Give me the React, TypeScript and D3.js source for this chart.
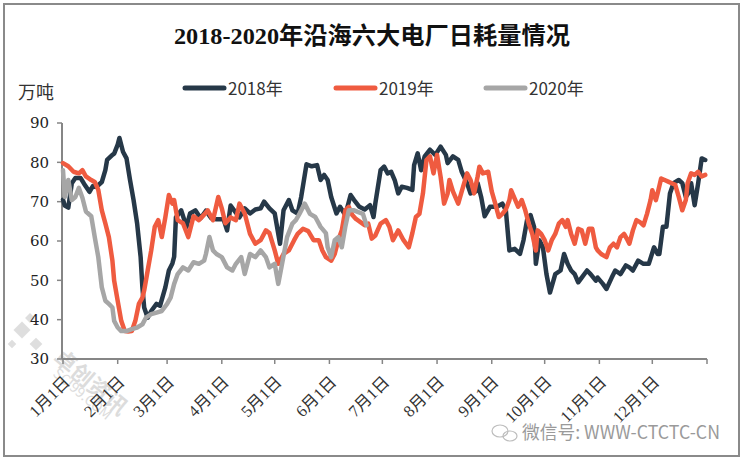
import React, {JSX} from "react";
import * as d3 from "d3";

const title = "2018-2020年沿海六大电厂日耗量情况";
const unitLabel = "万吨";
const seriesNames = ["2018年", "2019年", "2020年"];
const seriesColors = ["#263848", "#EF5B40", "#A6A6A6"];
const yTicks = [30, 40, 50, 60, 70, 80, 90];
const watermark = "微信号: WWW-CTCTC-CN";

// [day of year, 万吨]
const data2018: [number, number][] = [
    [0, 70.5], [1, 69], [3, 68.5], [5, 74.7], [7, 76], [10, 76], [12, 74.5], [15, 72.5], [17, 74], [19, 73.8],
    [22, 75], [24, 78], [25, 80.6], [28, 81.9], [29, 82.2], [31, 84.5], [32, 86.2], [34, 82.7], [36, 81],
    [38, 75.5], [40, 70.4], [42, 64.5], [44, 55.9], [45, 48.2], [46, 43.1], [48, 40.5], [50, 42.2], [53, 44],
    [55, 43.5], [58, 48.2], [60, 52.5], [62, 54.3], [63, 56], [64, 66], [67, 67.8], [70, 63.6], [72, 67],
    [75, 67.8], [78, 65.8], [81, 67.7], [84, 65.8], [87, 65.5], [91, 65.5], [93, 62.7], [95, 69], [97, 67.8],
    [100, 66], [103, 68.3], [106, 67], [109, 68], [112, 68.3], [114, 70], [117, 68.3], [120, 67], [123, 59.3],
    [125, 67.8], [128, 70.4], [130, 67.8], [133, 67], [135, 71.2], [138, 79.5], [141, 79], [144, 79.3],
    [146, 75.5], [148, 76.8], [150, 75.5], [152, 71.2], [155, 67], [157, 68.7], [160, 66.6], [163, 71.7],
    [165, 70.4], [168, 68.7], [171, 68], [174, 69.1], [176, 66.1], [177, 69.5], [180, 78], [182, 78.9],
    [184, 77.2], [186, 77.6], [188, 75.5], [190, 72.1], [192, 73.8], [195, 73.5], [198, 73], [199, 79.3],
    [201, 82.3], [203, 78], [205, 81.5], [208, 83.2], [211, 81.9], [214, 84], [217, 81.9], [218, 79.8],
    [221, 81.5], [224, 80.6], [226, 77.6], [229, 74.7], [231, 72.1], [234, 72.6], [235, 74.7], [237, 71.2],
    [239, 66.3], [242, 68.7], [246, 68.7], [249, 69.5], [251, 67.8], [253, 57.6], [256, 58], [259, 56.7],
    [261, 60.2], [263, 65.3], [265, 66.6], [267, 63.6], [268, 54.2], [270, 60.2], [272, 58.4], [274, 51.6],
    [276, 46.9], [279, 51.6], [282, 52.5], [284, 56.7], [286, 54.2], [288, 52.5], [290, 51.6], [292, 49.5],
    [294, 50.7], [297, 52.5], [299, 51.6], [302, 49.9], [303, 50.7], [306, 49.1], [308, 47.8], [311, 50.7],
    [313, 52.5], [316, 51.6], [319, 53.8], [321, 53.3], [323, 52.5], [326, 55], [329, 54.2], [332, 54.2],
    [335, 58.4], [337, 56.7], [338, 56.7], [340, 63.6], [342, 63.6], [344, 72.1], [346, 74.7], [349, 75.5],
    [351, 74.7], [353, 71.2], [355, 72.6], [356, 74.7], [358, 69.1], [360, 74.7], [362, 81], [364, 80.6],
];

const data2019: [number, number][] = [
    [0, 79.8], [3, 79], [6, 77.6], [9, 77.2], [11, 78], [13, 76.4], [16, 75.5], [18, 75], [20, 73], [22, 67.8],
    [24, 64.5], [26, 61], [28, 55], [29, 49.9], [31, 44.8], [33, 39.7], [35, 37.1], [37, 37], [39, 37.1],
    [41, 39.7], [43, 44], [45, 45.6], [46, 47.4], [48, 52.5], [50, 57.6], [52, 63.6], [54, 65.3], [56, 61],
    [58, 66], [60, 71.7], [62, 69.5], [63, 70.4], [65, 65.3], [68, 64.5], [71, 61], [74, 66.3], [77, 65.3],
    [80, 66.7], [82, 67.8], [85, 65.3], [88, 71.2], [90, 68.3], [92, 64.5], [95, 66], [98, 65.3], [100, 69.5],
    [103, 67], [106, 61.8], [109, 59.3], [112, 60.2], [115, 62.7], [117, 62], [120, 57.6], [122, 54.2],
    [125, 56.7], [128, 57.6], [131, 60.2], [133, 61.8], [136, 63.1], [139, 62.5], [142, 60.2], [145, 60.2],
    [147, 57.6], [149, 55.9], [152, 55], [154, 56.7], [156, 60.2], [158, 62.7], [160, 67.8], [162, 68.7],
    [164, 66.6], [166, 65.6], [168, 65], [171, 64], [173, 64.4], [175, 60.6], [177, 61.4], [180, 64.4],
    [183, 65.3], [185, 63.6], [187, 60.2], [190, 62.7], [193, 60.2], [196, 58.4], [198, 62], [200, 66.1],
    [202, 66.9], [204, 72.1], [206, 80.6], [208, 81.5], [210, 77.2], [212, 81.9], [214, 76.4], [216, 69.5],
    [218, 72.1], [219, 75.5], [221, 72.6], [224, 69.5], [226, 72.6], [229, 77.2], [231, 75.5], [233, 72.1],
    [235, 76.4], [236, 78.9], [238, 77.2], [241, 77.6], [243, 72.6], [245, 69.5], [247, 66.1], [249, 66.9],
    [251, 68], [253, 70.4], [254, 72.9], [256, 70.8], [258, 68.7], [260, 70.4], [262, 67.8], [264, 64.4],
    [266, 61.8], [268, 57.6], [269, 62.7], [271, 61.8], [273, 60.2], [275, 57.6], [277, 60.2], [279, 61.8],
    [281, 64.4], [283, 65.3], [285, 63.6], [286, 65.3], [288, 61.8], [290, 59.3], [292, 63.1], [294, 62.7],
    [296, 59.3], [298, 63.1], [300, 63.1], [302, 58.4], [303, 57.6], [305, 56.7], [308, 55.9], [310, 58.4],
    [312, 59.3], [314, 58.4], [316, 61], [318, 61.8], [320, 60.2], [321, 59.3], [323, 62.7], [325, 65.3],
    [327, 64.8], [329, 64], [331, 66.9], [333, 70.4], [334, 72.9], [336, 70.4], [337, 72.1], [339, 75.9],
    [341, 75.5], [343, 75.1], [345, 74.7], [347, 74.3], [349, 71.2], [351, 67.8], [353, 70.4], [354, 74.7],
    [356, 77.2], [358, 76.8], [360, 77.6], [362, 76.4], [364, 76.8],
];

const data2020: [number, number][] = [
    [0, 78], [1, 71.2], [3, 75.5], [5, 70.4], [7, 71.2], [9, 73.5], [11, 71], [13, 67.5], [16, 66.3], [18, 61],
    [20, 55.9], [22, 48.2], [24, 44.8], [26, 44], [28, 43.1], [29, 39.7], [31, 38], [33, 37.1], [36, 37.1],
    [39, 37.6], [42, 38], [45, 38.8], [47, 40.5], [50, 41.4], [53, 41.8], [56, 42.2], [59, 44], [61, 45.6],
    [63, 49.1], [65, 51.6], [68, 53.3], [71, 52.5], [74, 54.6], [77, 54.2], [80, 55], [81, 56.7], [83, 61],
    [85, 57.6], [87, 56.7], [90, 55.9], [93, 53.3], [96, 52.5], [98, 54.2], [101, 55.9], [103, 51.6],
    [106, 56.7], [109, 55.9], [112, 57.6], [115, 55.9], [117, 53.3], [120, 54.2], [122, 49.1], [124, 53.8],
    [127, 61], [130, 64.4], [132, 65.3], [134, 66.9], [137, 69.5], [140, 66.9], [143, 66.1], [146, 63.6],
    [149, 62], [150, 58.4], [152, 55.9], [154, 60.2], [156, 61], [158, 58.4], [160, 63.6], [162, 67.8],
    [165, 67.8], [167, 67.4], [170, 66.9], [172, 64],
];

const allSeries = [data2018, data2019, data2020];

const width = 744;
const height = 464;
const marginTop = 123;
const marginRight = 37;
const marginBottom = 105;
const marginLeft = 63;

const yearStart = new Date(2018, 0, 1);
const yearEnd = new Date(2019, 0, 1);
const toDate = (day: number) => d3.timeDay.offset(yearStart, day);

export default function App(): JSX.Element {
    const x = d3.scaleTime([yearStart, yearEnd], [marginLeft, width - marginRight]);
    const y = d3.scaleLinear([30, 90], [height - marginBottom, marginTop]);
    const line = d3.line<[number, number]>()
        .x(d => x(toDate(d[0])))
        .y(d => y(d[1]));
    const monthTicks = d3.timeMonth.range(yearStart, d3.timeDay.offset(yearEnd, 1));
    const fmt = (d: Date) => `${d.getMonth() + 1}月${d.getDate()}日`;
    const x0 = marginLeft - 1;
    const yBase = height - marginBottom;
    const axisColor = "#868686";
    const legendX = [185, 336, 486];

    return (
        <svg width={width} height={height} style={{position: "absolute", left: 0, top: 0, background: "#fff"}}>
            <rect x={4} y={4} width={735} height={452} fill="#fff" stroke="#8a8a8a" strokeWidth={2}/>

            {/* faint watermark on the lower left */}
            <g fill="#d6d6d6" opacity={0.8}>
                {[[22, 330, 12], [36, 344, 9], [30, 318, 7], [12, 344, 6]].map(([cx, cy, s], i) => (
                    <rect key={i} x={cx - s / 2} y={cy - s / 2} width={s} height={s} transform={`rotate(45 ${cx} ${cy})`}/>
                ))}
            </g>
            <g fill="#dcdcdc" fontFamily="'Noto Sans CJK SC', sans-serif">
                <text x={52} y={360} fontSize={22} fontWeight={700} transform="rotate(40 52 360)">卓创资讯</text>
                <text x={52} y={375} fontSize={14} transform="rotate(40 52 375)">SCI99.COM</text>
            </g>

            <text x={372} y={44} textAnchor="middle" fontSize={24} fontWeight={700}
                  fontFamily="'Liberation Serif', 'Noto Sans CJK SC', serif" fill="#111"
                  textLength={396} lengthAdjust="spacingAndGlyphs">{title}</text>

            <text x={18} y={99} fontSize={18} fontFamily="'Noto Sans CJK SC', sans-serif" fill="#333">{unitLabel}</text>

            <g fontFamily="'Noto Sans CJK SC', sans-serif" fontSize={17} fill="#333">
                {seriesNames.map((name, i) => (
                    <g key={name}>
                        <line x1={legendX[i]} x2={legendX[i] + 39} y1={88} y2={88}
                              stroke={seriesColors[i]} strokeWidth={5} strokeLinecap="round"/>
                        <text x={legendX[i] + 43} y={95}>{name}</text>
                    </g>
                ))}
            </g>

            {/* y axis */}
            <line x1={x0} x2={x0} y1={y(90)} y2={yBase} stroke={axisColor} strokeWidth={2}/>
            <g fontFamily="'DejaVu Serif', serif" fontSize={15} fill="#222">
                {yTicks.map(t => (
                    <g key={t}>
                        <line x1={x0 - 5} x2={x0} y1={y(t)} y2={y(t)} stroke={axisColor} strokeWidth={1.5}/>
                        <text x={49} y={y(t)} dy="0.36em" textAnchor="end">{t}</text>
                    </g>
                ))}
            </g>

            {/* x axis */}
            <line x1={x0} x2={width - marginRight} y1={yBase} y2={yBase} stroke={axisColor} strokeWidth={2}/>
            <g fontFamily="'Liberation Serif', 'Noto Sans CJK SC', serif" fontSize={16.5} fill="#333">
                {monthTicks.map((d, i) => (
                    <g key={i}>
                        <line x1={x(d)} x2={x(d)} y1={yBase} y2={yBase + 5} stroke={axisColor} strokeWidth={1.5}/>
                        {i < 12 && (
                            <text transform={`translate(${x(d) + 8},${yBase + 24}) rotate(-45)`} textAnchor="end">{fmt(d)}</text>
                        )}
                    </g>
                ))}
            </g>

            <g fill="none" strokeWidth={4.5} strokeLinejoin="round" strokeLinecap="round">
                {allSeries.map((s, i) => (
                    <path key={i} d={line(s) as string} stroke={seriesColors[i]}/>
                ))}
            </g>

            {/* wechat watermark */}
            <g stroke="#bdbdbd" fill="none" strokeWidth={1.2}>
                <ellipse cx={500} cy={431} rx={8} ry={6}/>
                <ellipse cx={510} cy={436} rx={7} ry={5}/>
            </g>
            <text x={522} y={439} fontSize={18} fontFamily="'Noto Sans CJK SC', sans-serif" fill="#9a9a9a"
                  stroke="#fff" strokeWidth={3} paintOrder="stroke" textLength={198} lengthAdjust="spacingAndGlyphs">{watermark}</text>
        </svg>
    );
}
